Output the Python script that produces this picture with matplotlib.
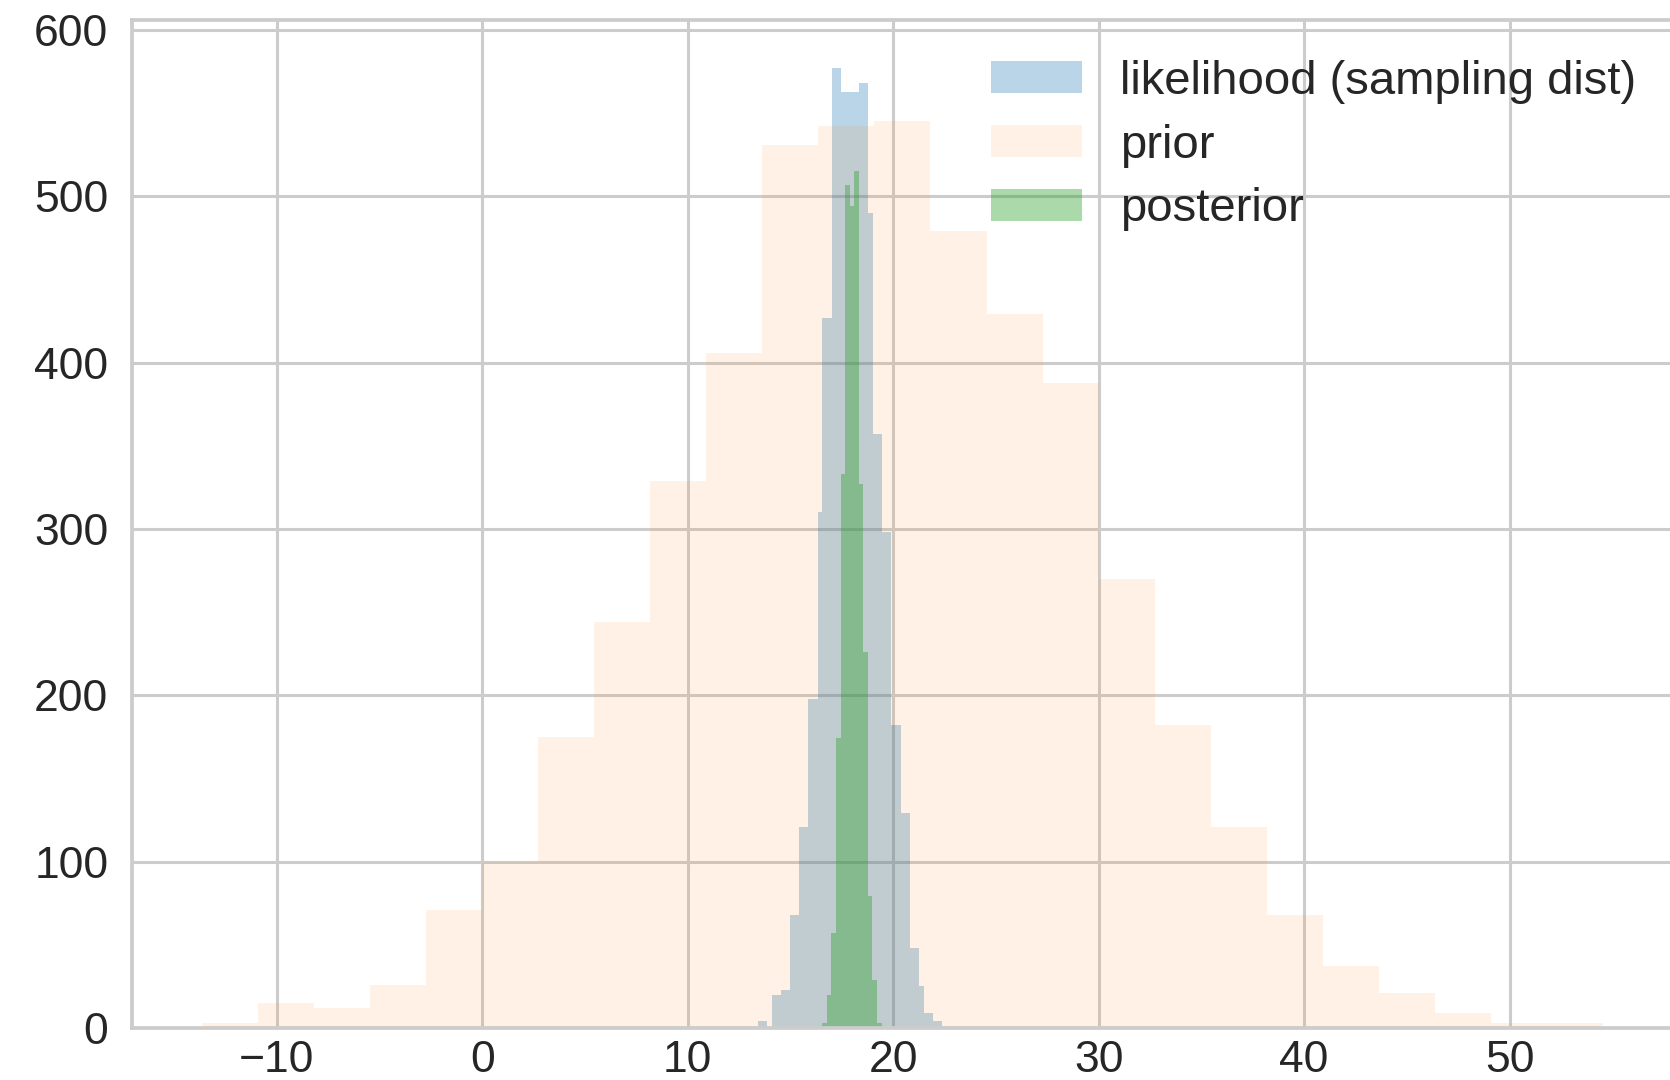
# Likelihood / prior / posterior histograms (seaborn whitegrid look)

import numpy as np
import matplotlib
matplotlib.use("Agg")
import matplotlib.pyplot as plt

# Likelihood (sampling dist) - bin edges and counts
like_edges = [13.40, 13.85, 14.10, 14.53, 14.98, 15.42, 15.87, 16.36, 16.52,
              17.01, 17.45, 18.34, 18.79, 19.03, 19.47, 19.92, 20.36, 20.81,
              21.25, 21.49, 21.94, 22.38]
like_counts = [4, 0, 20, 23, 68, 121, 198, 310, 427, 577, 563, 568, 490,
               357, 298, 182, 129, 48, 25, 9, 4]

# Prior - 25 equal bins
prior_lo, prior_hi, prior_nbins = -13.636, 54.545, 25
prior_counts = [3, 15, 12, 26, 71, 100, 175, 244, 329, 406, 531, 542, 545,
                479, 429, 388, 270, 182, 121, 68, 37, 21, 9, 3, 3]

# Posterior - 13 equal bins
post_lo, post_hi, post_nbins = 16.55, 19.44, 13
post_counts = [3, 20, 57, 174, 333, 507, 494, 515, 327, 226, 79, 29, 3]

labels = ['likelihood (sampling dist)', 'prior', 'posterior']

plt.rcParams['font.family'] = ['Liberation Sans', 'DejaVu Sans']
plt.rcParams['axes.axisbelow'] = True

fig = plt.figure(figsize=(16.7, 10.8), dpi=100)
ax = fig.add_axes([0.079, 0.0483, 0.9228, 0.9329])

prior_edges = np.linspace(prior_lo, prior_hi, prior_nbins + 1)
post_edges = np.linspace(post_lo, post_hi, post_nbins + 1)

ax.hist(like_edges[:-1], bins=like_edges, weights=like_counts,
        color='C0', alpha=0.3, label=labels[0])
ax.hist(prior_edges[:-1], bins=prior_edges, weights=prior_counts,
        color='C1', alpha=0.1, label=labels[1])
ax.hist(post_edges[:-1], bins=post_edges, weights=post_counts,
        color='C2', alpha=0.4, label=labels[2])

# whitegrid styling
ax.grid(True, color='#cccccc', linewidth=2.2)
for spine in ax.spines.values():
    spine.set_color('#cccccc')
    spine.set_linewidth(2.7)
ax.tick_params(length=0, labelsize=32, labelcolor='#262626')
ax.tick_params(axis='x', pad=9)
ax.tick_params(axis='y', pad=17)

leg = ax.legend(loc='upper right', bbox_to_anchor=(1.0037, 1.003),
                frameon=False, fontsize=34, handlelength=1.94,
                handleheight=0.68, labelspacing=0.42)
for t in leg.get_texts():
    t.set_color('#262626')

fig.savefig('out.png', dpi=100)
